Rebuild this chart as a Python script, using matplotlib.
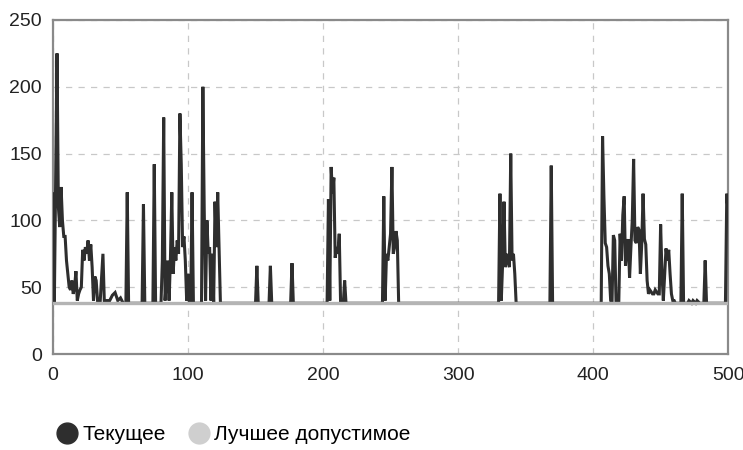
import matplotlib
matplotlib.use("Agg")
import matplotlib.pyplot as plt
from matplotlib.lines import Line2D

plt.rcParams['font.family'] = ['Liberation Sans', 'DejaVu Sans']

# Current value per iteration (key points)
cur_x = [0, 1, 2, 3, 4, 5, 6, 7, 8, 9, 10, 11, 12, 13, 14, 15, 16, 17, 18, 19, 20,
         21, 22, 23, 24, 25, 26, 27, 28, 29, 30, 31, 32, 33, 35, 37, 38, 42, 44, 46,
         48, 50, 52, 54, 55, 56,
         66, 67, 68, 74, 75, 76, 80, 81, 82, 83, 85, 86, 87, 88, 89, 90, 91, 92, 93,
         94, 95, 96, 97, 98, 99, 100, 101, 102, 103, 104, 110, 111, 112, 113, 114,
         115, 116, 117, 118, 119, 120, 121, 122, 123, 124,
         150, 151, 152, 160, 161, 162, 176, 177, 178,
         203, 204, 205, 206, 207, 208, 209, 210, 211, 212, 213, 215, 216, 217,
         244, 245, 246, 247, 248, 250, 251, 252, 253, 254, 255, 256,
         330, 331, 332, 333, 334, 335, 336, 338, 339, 340, 341, 342, 343,
         368, 369, 370,
         406, 407, 408, 409, 410, 411, 412, 413, 414, 415, 416, 417, 419, 420, 421,
         422, 423, 424, 425, 426, 427, 428, 429, 430, 431, 432, 433, 434, 435, 436,
         437, 438, 439, 440, 441, 442, 444, 445, 446, 448, 449, 450, 451, 452, 453,
         454, 455, 456, 457, 458, 459, 460, 461, 465, 466, 467, 470, 471, 473, 474,
         476, 477, 479, 482, 483, 484, 498, 499, 500]
cur_y = [120, 38, 130, 225, 110, 95, 125, 100, 88, 88, 70, 60, 50, 48, 55, 45, 50, 62, 40, 45, 48,
         50, 78, 70, 80, 75, 85, 70, 82, 65, 40, 58, 55, 40, 40, 75, 40, 40, 44, 46,
         40, 42, 38, 38, 121, 38,
         38, 112, 38, 38, 142, 38, 38, 70, 177, 40, 70, 40, 72, 121, 60, 80, 70, 85, 75,
         180, 142, 80, 88, 70, 40, 60, 38, 38, 121, 38, 38, 200, 108, 40, 100,
         75, 80, 40, 75, 38, 114, 80, 121, 80, 38,
         38, 66, 38, 38, 66, 38, 38, 68, 38,
         38, 116, 40, 140, 120, 132, 72, 80, 75, 90, 38, 38, 55, 38,
         38, 118, 40, 75, 70, 90, 140, 75, 80, 92, 85, 38,
         38, 120, 40, 68, 114, 65, 75, 65, 150, 70, 75, 60, 38,
         38, 141, 38,
         38, 163, 118, 83, 80, 66, 60, 40, 38, 89, 85, 38, 38, 90, 70,
         104, 118, 66, 79, 86, 57, 80, 100, 146, 85, 83, 95, 93, 60, 82,
         120, 86, 82, 55, 45, 48, 45, 45, 48, 45, 45, 97, 60, 40, 60,
         79, 70, 78, 60, 45, 40, 40, 38, 38, 120, 38, 38, 40, 38, 40,
         38, 40, 38, 38, 70, 38, 38, 120, 105]

# Best feasible value
best_x = [0, 500]
best_y = [38, 38]

x_ticks = [0, 100, 200, 300, 400, 500]
y_ticks = [0, 50, 100, 150, 200, 250]
labels = ['Текущее', 'Лучшее допустимое']

cur_color = '#2e2e2e'
best_color = '#b4b4b4'

fig = plt.figure(figsize=(7.43, 4.5), dpi=100)
ax = fig.add_axes([0.0713, 0.2133, 0.9087, 0.7423])

ax.plot(cur_x, cur_y, color=cur_color, lw=2.2, zorder=3, solid_joinstyle='miter')
ax.plot(best_x, best_y, color=best_color, lw=2.4, zorder=4)

ax.set_xlim(0, 500)
ax.set_ylim(0, 250)
ax.set_xticks(x_ticks)
ax.set_yticks(y_ticks)
ax.tick_params(length=0, labelsize=14, colors='#222222')
ax.tick_params(axis='x', pad=9)
ax.tick_params(axis='y', pad=8)
ax.grid(True, color='#c8c8c8', linestyle=(0, (5, 5)), lw=0.9)
ax.set_axisbelow(True)
for s in ax.spines.values():
    s.set_color('#8a8a8a')
    s.set_linewidth(1.6)

handles = [Line2D([], [], marker='o', ls='none', ms=15, color=cur_color),
           Line2D([], [], marker='o', ls='none', ms=15, color='#cfcfcf')]
fig.legend(handles, labels, loc='lower left', bbox_to_anchor=(0.05, -0.028),
           ncol=2, frameon=False, fontsize=15, handletextpad=0.2,
           columnspacing=1.0, handlelength=1.1)

fig.savefig('out.png', dpi=100, facecolor='white')
